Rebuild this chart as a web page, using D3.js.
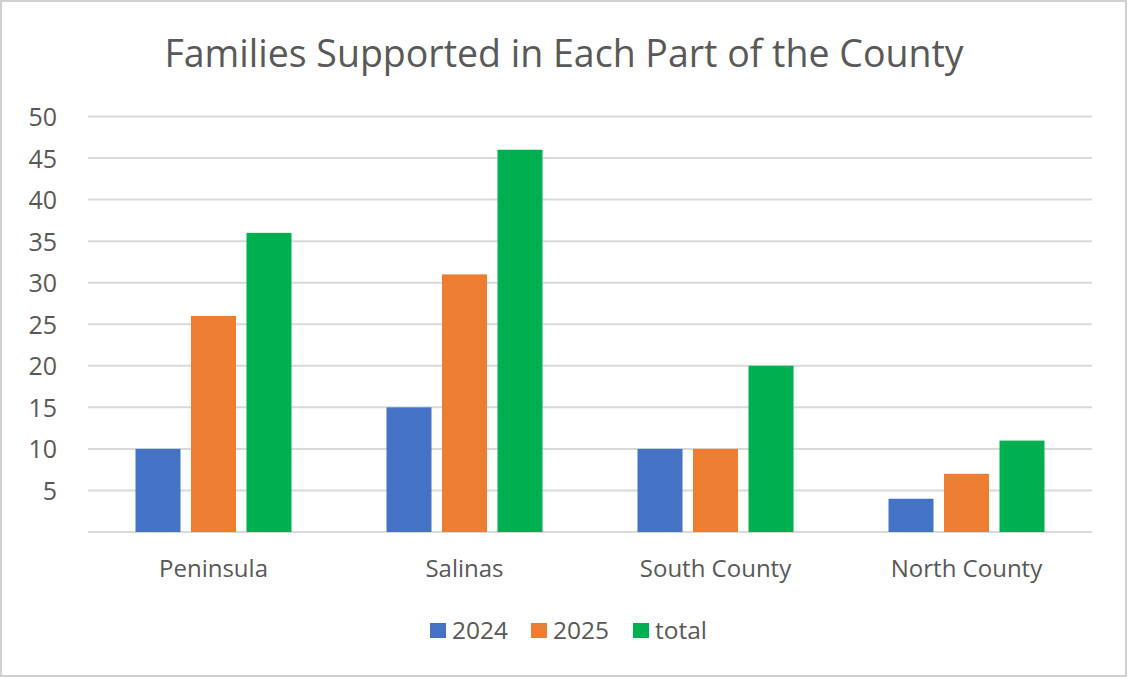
<!DOCTYPE html>
<html>
<head>
<meta charset="utf-8">
<script src="https://cdn.jsdelivr.net/npm/d3@7"></script>
<style>
  html, body { margin: 0; padding: 0; background: #fff; }
  svg { display: block; }
</style>
</head>
<body>
<div id="chart"></div>
<script>
const categories = ['Peninsula', 'Salinas', 'South County', 'North County'];
const seriesNames = ['2024', '2025', 'total'];
const values2024 = [10, 15, 10, 4];
const values2025 = [26, 31, 10, 7];
const valuesTotal = [36, 46, 20, 11];
const yTicks = [5, 10, 15, 20, 25, 30, 35, 40, 45, 50];

const colors = ['#4472C4', '#ED7D31', '#00B050'];
const font = '"Open Sans", "Noto Sans", sans-serif';

const width = 1128;
const height = 678;
const margin = { top: 116.5, right: 36, bottom: 146, left: 88 };

const svg = d3.select('#chart').append('svg')
  .attr('width', width)
  .attr('height', height);

// outer frame
svg.append('rect')
  .attr('x', 1).attr('y', 1)
  .attr('width', width - 3).attr('height', height - 3)
  .attr('fill', '#fff')
  .attr('stroke', '#d0d0d0')
  .attr('stroke-width', 2);

const plotW = width - margin.left - margin.right;
const plotH = height - margin.top - margin.bottom;

const x = d3.scaleBand()
  .domain(categories)
  .range([margin.left, margin.left + plotW]);

const y = d3.scaleLinear()
  .domain([0, 50])
  .range([margin.top + plotH, margin.top]);

// gridlines
svg.append('g')
  .selectAll('line')
  .data([0].concat(yTicks))
  .enter().append('line')
  .attr('x1', margin.left)
  .attr('x2', margin.left + plotW)
  .attr('y1', d => y(d))
  .attr('y2', d => y(d))
  .attr('stroke', '#d9d9d9')
  .attr('stroke-width', 2);

// y axis labels
const yAxis = d3.axisLeft(y).tickValues(yTicks).tickSize(0).tickPadding(0);
const yg = svg.append('g')
  .attr('transform', `translate(${margin.left - 31},0)`)
  .call(yAxis);
yg.select('.domain').remove();
yg.selectAll('text')
  .attr('font-family', font)
  .attr('font-size', 25)
  .attr('fill', '#595959')
  .attr('dy', '0.36em');

// bars
const rows = categories.map((c, i) => ({
  category: c,
  values: [values2024[i], values2025[i], valuesTotal[i]]
}));

const barW = 45;
const step = 55.5;
const inner = d3.scaleBand()
  .domain(seriesNames)
  .range([0, step * 3]);

svg.append('g')
  .selectAll('g')
  .data(rows)
  .enter().append('g')
  .attr('transform', d => `translate(${x(d.category) + x.bandwidth() / 2 - step * 1.5},0)`)
  .selectAll('rect')
  .data(d => d.values.map((v, j) => ({ name: seriesNames[j], value: v, j })))
  .enter().append('rect')
  .attr('x', d => inner(d.name) + (step - barW) / 2)
  .attr('y', d => y(d.value))
  .attr('width', barW)
  .attr('height', d => y(0) - y(d.value))
  .attr('fill', d => colors[d.j]);

// category labels
const xAxis = d3.axisBottom(x).tickSize(0).tickPadding(0);
const xg = svg.append('g')
  .attr('transform', `translate(0,${y(0) + 45})`)
  .call(xAxis);
xg.select('.domain').remove();
xg.selectAll('text')
  .attr('font-family', font)
  .attr('font-size', 24)
  .attr('fill', '#595959')
  .attr('dy', '0');

// title
svg.append('text')
  .attr('x', 564)
  .attr('y', 67)
  .attr('text-anchor', 'middle')
  .attr('font-family', font)
  .attr('font-size', 37.5)
  .attr('fill', '#595959')
  .text('Families Supported in Each Part of the County');

// legend
const legendX = [430, 531, 633];
const legend = svg.append('g')
  .selectAll('g')
  .data(seriesNames)
  .enter().append('g')
  .attr('transform', (d, i) => `translate(${legendX[i]},623)`);
legend.append('rect')
  .attr('width', 16)
  .attr('height', 15)
  .attr('fill', (d, i) => colors[i]);
legend.append('text')
  .attr('x', 22)
  .attr('y', 16)
  .attr('font-family', font)
  .attr('font-size', 24.5)
  .attr('fill', '#595959')
  .text(d => d);
</script>
</body>
</html>
